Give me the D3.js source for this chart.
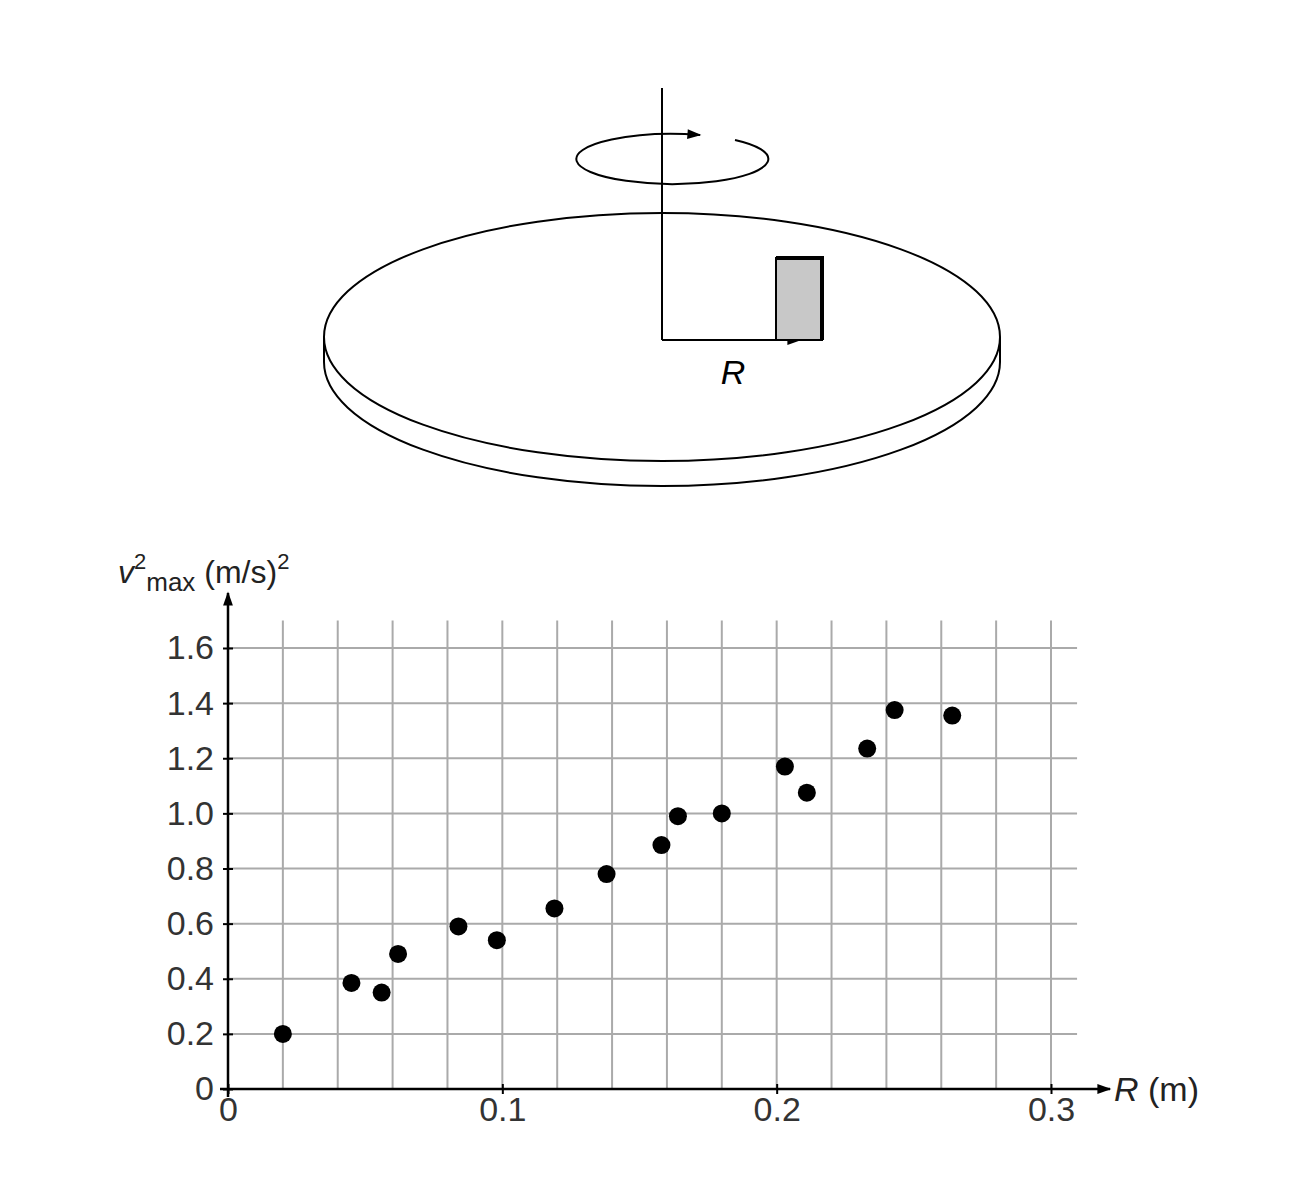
<!DOCTYPE html>
<html><head><meta charset="utf-8">
<script src="https://cdn.jsdelivr.net/npm/d3@7"></script>
<style>body{margin:0;background:#fff}text{font-family:"Liberation Sans",Arial,sans-serif}</style>
</head><body><svg id="c" width="1312" height="1200"></svg>
<script>
const radiusValues=[0.02,0.045,0.056,0.062,0.084,0.098,0.119,0.138,0.158,0.164,0.180,0.203,0.211,0.233,0.243,0.264];
const vmax2Values=[0.20,0.385,0.35,0.49,0.59,0.54,0.655,0.78,0.885,0.99,1.0,1.17,1.075,1.235,1.375,1.355];
const xTickLabels=["0","0.1","0.2","0.3"];
const yTickLabels=["0","0.2","0.4","0.6","0.8","1.0","1.2","1.4","1.6"];

const svg=d3.select("#c");
svg.append("defs").append("marker").attr("id","ah").attr("viewBox","0 0 10 10").attr("refX",9).attr("refY",5)
 .attr("markerWidth",10).attr("markerHeight",10).attr("markerUnits","userSpaceOnUse").attr("orient","auto")
 .append("path").attr("d","M0,1 L10,5 L0,9 Z").attr("fill","#000");
svg.select("defs").append("marker").attr("id","ah2").attr("viewBox","0 0 10 10").attr("refX",9).attr("refY",5)
 .attr("markerWidth",22).attr("markerHeight",14).attr("markerUnits","userSpaceOnUse").attr("orient","auto")
 .append("path").attr("d","M0,1.5 L10,5 L0,8.5 Z").attr("fill","#000");

// diagram
const g0=svg.append("g").attr("fill","none").attr("stroke","#000").attr("stroke-width",2);
g0.append("path").attr("d","M324,337 L324,362 A338,124 0 0 0 1000,362 L1000,337").attr("fill","#fff");
g0.append("ellipse").attr("cx",662).attr("cy",337).attr("rx",338).attr("ry",124).attr("fill","#fff");
g0.append("line").attr("x1",662).attr("y1",88).attr("x2",662).attr("y2",340);
g0.append("line").attr("x1",662).attr("y1",340).attr("x2",800).attr("y2",340).attr("marker-end","url(#ah2)");
g0.append("rect").attr("x",776).attr("y",258).attr("width",46).attr("height",82).attr("fill","#c8c8c8");
g0.append("path").attr("d","M776,258 L822,258 L822,340").attr("stroke-width",4);
g0.append("path").attr("d","M735,140 A96,25 0 1 1 700,135").attr("marker-end","url(#ah2)");
svg.append("text").attr("x",733).attr("y",384).attr("text-anchor","middle").attr("font-size",34).attr("font-style","italic").text("R");

// chart
const x=d3.scaleLinear().domain([0,0.3]).range([228,1051]);
const y=d3.scaleLinear().domain([0,1.6]).range([1089,648]);
const grid=svg.append("g").attr("stroke","#aaa").attr("stroke-width",2);
d3.range(1,16).forEach(i=>grid.append("line").attr("x1",x(i*0.02)).attr("x2",x(i*0.02)).attr("y1",y(0)).attr("y2",y(1.7)));
d3.range(1,9).forEach(i=>grid.append("line").attr("x1",x(0)).attr("x2",x(0.3095)).attr("y1",y(i*0.2)).attr("y2",y(i*0.2)));
svg.append("line").attr("x1",x(0)).attr("x2",x(0)).attr("y1",y(0)+8).attr("y2",y(1.8)).attr("stroke","#000").attr("stroke-width",2.5).attr("marker-end","url(#ah2)");
svg.append("line").attr("x1",x(0)-8).attr("x2",1110).attr("y1",y(0)).attr("y2",y(0)).attr("stroke","#000").attr("stroke-width",2.5).attr("marker-end","url(#ah2)");
const yt=yTickLabels.map(Number);
svg.append("g").attr("transform",`translate(${x(0)},0)`).call(d3.axisLeft(y).tickValues(yt).tickFormat((d,i)=>yTickLabels[i]).tickSize(10).tickPadding(4))
 .call(g=>{g.select(".domain").remove();g.selectAll("line").attr("stroke-width",2).attr("transform","translate(5,0)");g.selectAll("text").attr("font-size",34).attr("fill","#333").attr("font-family","Liberation Sans,Arial");});
svg.append("g").attr("transform",`translate(0,${y(0)})`).call(d3.axisBottom(x).tickValues(xTickLabels.map(Number)).tickFormat((d,i)=>xTickLabels[i]).tickSize(10).tickPadding(-2))
 .call(g=>{g.select(".domain").remove();g.selectAll("line").attr("stroke-width",2).attr("transform","translate(0,-5)");g.selectAll("text").attr("font-size",34).attr("fill","#333").attr("font-family","Liberation Sans,Arial");});
svg.append("g").selectAll("circle").data(radiusValues).join("circle")
 .attr("cx",d=>x(d)).attr("cy",(d,i)=>y(vmax2Values[i])).attr("r",9).attr("fill","#000");
const yl=svg.append("text").attr("x",118).attr("y",583).attr("font-size",32).attr("fill","#222");
yl.append("tspan").attr("font-style","italic").text("v");
yl.append("tspan").attr("font-size",22).attr("dy",-14).text("2");
yl.append("tspan").attr("font-size",26).attr("dy",22).text("max");
yl.append("tspan").attr("dy",-8).text(" (m/s)");
yl.append("tspan").attr("font-size",22).attr("dy",-14).text("2");
const xl=svg.append("text").attr("x",1114).attr("y",1101).attr("font-size",34).attr("fill","#222");
xl.append("tspan").attr("font-style","italic").text("R");
xl.append("tspan").text(" (m)");
</script></body></html>
